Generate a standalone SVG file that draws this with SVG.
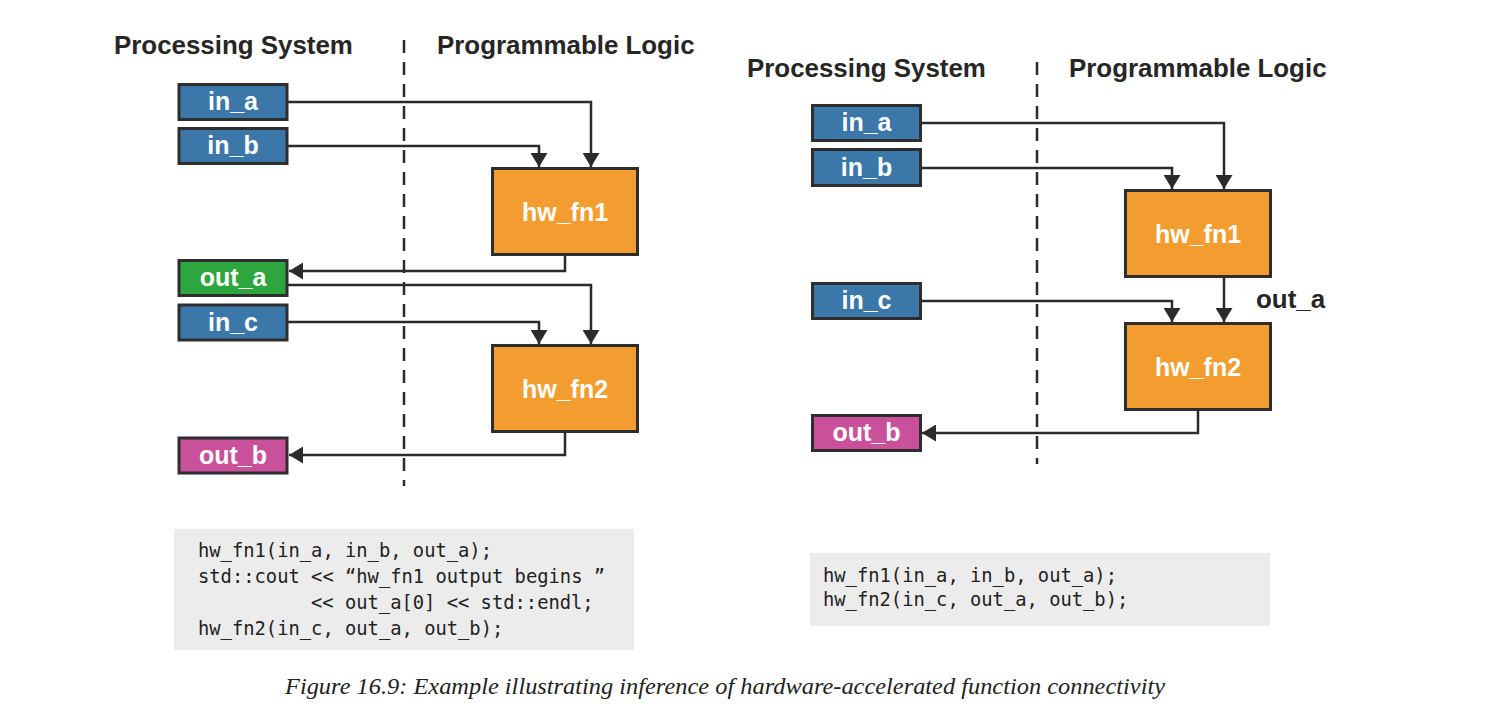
<svg xmlns="http://www.w3.org/2000/svg" width="1498" height="710" viewBox="0 0 1498 710">
<style>
.hdr{font-family:"Liberation Sans",Arial,sans-serif;font-weight:bold;font-size:25.9px;fill:#262626}
.lbl{font-family:"Liberation Sans",Arial,sans-serif;font-weight:bold;font-size:25px;fill:#ffffff;text-anchor:middle}
.box{stroke:#2e2e2e;stroke-width:3}
.blue{fill:#3b77a8}
.green{fill:#2ea63f}
.pink{fill:#c9519b}
.orange{fill:#f39c2f}
.wire{fill:none;stroke:#2b2b2b;stroke-width:2.5}
.dash{stroke:#2b2b2b;stroke-width:2.5;stroke-dasharray:13 9}
.code{fill:#ececec}
.mono{font-family:"DejaVu Sans Mono","Liberation Mono",monospace;font-size:18.8px;fill:#222}
.cap{font-family:"Liberation Serif","Times New Roman",serif;font-style:italic;font-size:24px;fill:#222}
</style>
<defs>
<marker id="arr" markerUnits="userSpaceOnUse" markerWidth="16" markerHeight="17" refX="14" refY="8.5" orient="auto" viewBox="0 0 16 17">
<path d="M0,0 L14,8.5 L0,17 z" fill="#2b2b2b"/>
</marker>
</defs>
<rect width="1498" height="710" fill="#ffffff"/>

<!-- Left diagram -->
<g id="left-headers">
<text class="hdr" x="114" y="54">Processing System</text>
<text class="hdr" x="437" y="54">Programmable Logic</text>
<line class="dash" x1="404" y1="40" x2="404" y2="486"/>
</g>

<g id="L_connectors">
<path class="wire" d="M288,102 H591 V167" marker-end="url(#arr)"/>
<path class="wire" d="M288,146 H539 V167" marker-end="url(#arr)"/>
<path class="wire" d="M565,256 V271 H289" marker-end="url(#arr)"/>
<path class="wire" d="M288,285 H591 V344" marker-end="url(#arr)"/>
<path class="wire" d="M288,322 H539 V344" marker-end="url(#arr)"/>
<path class="wire" d="M565,433 V455 H289" marker-end="url(#arr)"/>
</g>

<g id="L_in_a"><rect class="box blue" x="179" y="84.5" width="108" height="35"/><text class="lbl" x="233" y="110">in_a</text></g>
<g id="L_in_b"><rect class="box blue" x="179" y="128.5" width="108" height="35"/><text class="lbl" x="233" y="154">in_b</text></g>
<g id="L_hw_fn1"><rect class="box orange" x="492.5" y="168.5" width="145" height="86"/><text class="lbl" x="565" y="221">hw_fn1</text></g>
<g id="L_out_a"><rect class="box green" x="179" y="260.5" width="108" height="35"/><text class="lbl" x="233" y="286">out_a</text></g>
<g id="L_in_c"><rect class="box blue" x="179" y="305" width="108" height="35"/><text class="lbl" x="233" y="330.5">in_c</text></g>
<g id="L_hw_fn2"><rect class="box orange" x="492.5" y="345.5" width="145" height="86"/><text class="lbl" x="565" y="398">hw_fn2</text></g>
<g id="L_out_b"><rect class="box pink" x="179" y="438" width="108" height="35"/><text class="lbl" x="233" y="463.5">out_b</text></g>

<g id="L_code">
<rect class="code" x="174" y="529" width="460" height="121"/>
<text class="mono" x="198" y="557">hw_fn1(in_a, in_b, out_a);</text>
<text class="mono" x="198" y="583">std::cout &lt;&lt; “hw_fn1 output begins ”</text>
<text class="mono" x="311" y="609">&lt;&lt; out_a[0] &lt;&lt; std::endl;</text>
<text class="mono" x="198" y="635">hw_fn2(in_c, out_a, out_b);</text>
</g>

<!-- Right diagram -->
<g id="right-headers">
<text class="hdr" x="747" y="77">Processing System</text>
<text class="hdr" x="1069" y="77">Programmable Logic</text>
<line class="dash" x1="1037" y1="62" x2="1037" y2="464"/>
</g>

<g id="R_connectors">
<path class="wire" d="M921,123 H1224 V189" marker-end="url(#arr)"/>
<path class="wire" d="M921,168 H1172 V189" marker-end="url(#arr)"/>
<path class="wire" d="M1224,278 V322" marker-end="url(#arr)"/>
<path class="wire" d="M921,301 H1172 V322" marker-end="url(#arr)"/>
<path class="wire" d="M1198,411 V433 H922" marker-end="url(#arr)"/>
<text class="hdr" x="1256" y="308">out_a</text>
</g>

<g id="R_in_a"><rect class="box blue" x="812.5" y="105.5" width="108" height="35"/><text class="lbl" x="866.5" y="131">in_a</text></g>
<g id="R_in_b"><rect class="box blue" x="812.5" y="149.5" width="108" height="36"/><text class="lbl" x="866.5" y="176">in_b</text></g>
<g id="R_hw_fn1"><rect class="box orange" x="1125.5" y="190.5" width="145" height="86"/><text class="lbl" x="1198" y="243">hw_fn1</text></g>
<g id="R_in_c"><rect class="box blue" x="812.5" y="283.5" width="108" height="35"/><text class="lbl" x="866.5" y="309">in_c</text></g>
<g id="R_hw_fn2"><rect class="box orange" x="1125.5" y="323.5" width="145" height="86"/><text class="lbl" x="1198" y="376">hw_fn2</text></g>
<g id="R_out_b"><rect class="box pink" x="812.5" y="415.5" width="108" height="35"/><text class="lbl" x="866.5" y="441">out_b</text></g>

<g id="R_code">
<rect class="code" x="810" y="553" width="460" height="73"/>
<text class="mono" x="823" y="582">hw_fn1(in_a, in_b, out_a);</text>
<text class="mono" x="823" y="606">hw_fn2(in_c, out_a, out_b);</text>
</g>

<text class="cap" x="285" y="694" textLength="880" lengthAdjust="spacingAndGlyphs">Figure 16.9: Example illustrating inference of hardware-accelerated function connectivity</text>
</svg>
